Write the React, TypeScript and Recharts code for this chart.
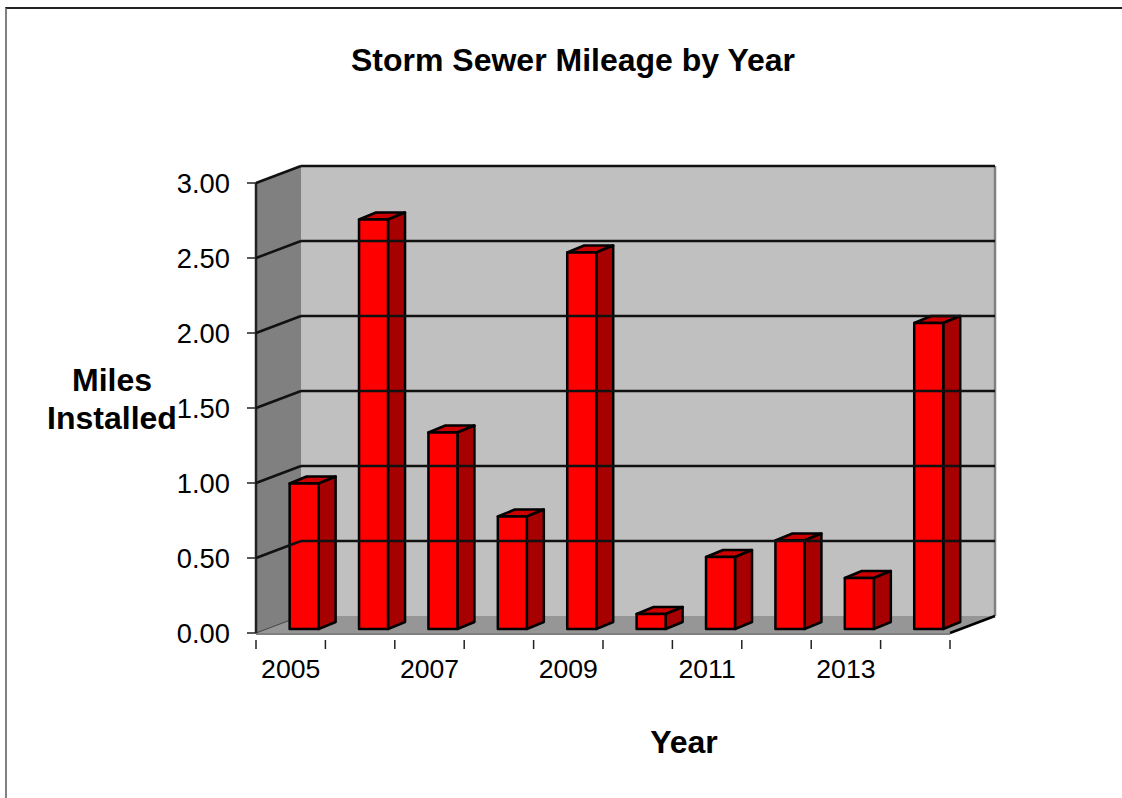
import { Bar, BarChart, ReferenceArea, ReferenceLine, XAxis, YAxis } from 'recharts';

const years = ['2005', '2006', '2007', '2008', '2009', '2010', '2011', '2012', '2013', '2014'];
const miles = [0.97, 2.73, 1.31, 0.75, 2.51, 0.1, 0.48, 0.59, 0.34, 2.04];
const yTicks = [0, 0.5, 1, 1.5, 2, 2.5, 3];
const gridTicks = [0.5, 1, 1.5, 2, 2.5, 3];
const chartTitle = 'Storm Sewer Mileage by Year';
const xTitle = 'Year';
const yTitleLines = ['Miles', 'Installed'];

const data = years.map((year, i) => ({ year, miles: miles[i] }));

// 3d look: how far the back wall sits from the front plane
const DEPTH_X = 45;
const DEPTH_Y = 17;
const PLOT_WIDTH = 694;
const FONT = '"Liberation Sans", Arial, sans-serif';

function Walls({ x, y, width, height }: any) {
  const bottom = y + height;
  const right = x + width;
  return (
    <g>
      <polygon
        points={`${x},${y} ${x + DEPTH_X},${y - DEPTH_Y} ${x + DEPTH_X},${bottom - DEPTH_Y} ${x},${bottom}`}
        fill="#808080"
      />
      <rect x={x + DEPTH_X} y={y - DEPTH_Y} width={width} height={height} fill="#c0c0c0" />
      <polygon
        points={`${x},${bottom} ${x + DEPTH_X},${bottom - DEPTH_Y} ${right + DEPTH_X},${bottom - DEPTH_Y} ${right},${bottom}`}
        fill="#969696"
      />
      <line x1={right + DEPTH_X} y1={y - DEPTH_Y} x2={right + DEPTH_X} y2={bottom - DEPTH_Y} stroke="#808080" strokeWidth={2.5} />
      <line x1={x} y1={bottom + 1} x2={right} y2={bottom + 1} stroke="#808080" strokeWidth={2} />
      <line x1={x} y1={bottom} x2={x + DEPTH_X} y2={bottom - DEPTH_Y} stroke="#404040" strokeWidth={1} />
      <line x1={right} y1={bottom} x2={right + DEPTH_X} y2={bottom - DEPTH_Y} stroke="#000" strokeWidth={2.5} />
      <line x1={x} y1={y} x2={x} y2={bottom} stroke="#222" strokeWidth={2.5} />
    </g>
  );
}

function GridLine(props: any) {
  const { x1, x2, y1 } = props;
  return (
    <g>
      <line x1={x1} y1={y1} x2={x1 + DEPTH_X} y2={y1 - DEPTH_Y} stroke="#111" strokeWidth={2.5} />
      <line x1={x1 + DEPTH_X} y1={y1 - DEPTH_Y} x2={x2 + DEPTH_X} y2={y1 - DEPTH_Y} stroke="#111" strokeWidth={2.5} />
    </g>
  );
}

function Bar3d({ x, y, width, height }: any) {
  const dx = 13.5;
  const lift = 4;
  const sideX = 17;
  const sideY = 7;
  const left = x + dx;
  const right = left + width;
  const top = y - lift;
  const bottom = y + height - lift;
  return (
    <g stroke="#000" strokeWidth={2.5} strokeLinejoin="round">
      <polygon points={`${left},${top} ${left + sideX},${top - sideY} ${right + sideX},${top - sideY} ${right},${top}`} fill="#cc0000" />
      <polygon points={`${right},${top} ${right + sideX},${top - sideY} ${right + sideX},${bottom - sideY} ${right},${bottom}`} fill="#a60000" />
      <rect x={left} y={top} width={width} height={height} fill="#ff0000" />
    </g>
  );
}

function YearTick({ x, y, payload, index }: any) {
  const half = PLOT_WIDTH / years.length / 2;
  return (
    <g>
      <line x1={x - half} y1={y - 1} x2={x - half} y2={y + 8} stroke="#222" strokeWidth={1.5} />
      {index === years.length - 1 && <line x1={x + half} y1={y - 1} x2={x + half} y2={y + 8} stroke="#222" strokeWidth={1.5} />}
      {index % 2 === 0 && (
        <text x={x} y={y + 30} textAnchor="middle" dominantBaseline="middle" fill="#000" fontSize={26.6} fontFamily={FONT}>
          {payload.value}
        </text>
      )}
    </g>
  );
}

export default function App() {
  return (
    <div style={{ position: 'absolute', left: 0, top: 0, width: 1122, height: 798, background: '#fff', fontFamily: FONT, overflow: 'hidden' }}>
      <div style={{ position: 'absolute', left: 5, top: 7, width: 1117, height: 791, borderTop: '2px solid #222', borderLeft: '2px solid #808080', boxSizing: 'border-box' }} />
      <div style={{ position: 'absolute', left: 0, top: 42, width: 1146, textAlign: 'center', fontWeight: 700, fontSize: 32 }}>{chartTitle}</div>
      <div style={{ position: 'absolute', left: 39, top: 361, width: 146, textAlign: 'center', fontWeight: 700, fontSize: 32, lineHeight: '38px' }}>
        {yTitleLines.map((t) => <div key={t}>{t}</div>)}
      </div>
      <div style={{ position: 'absolute', left: 584, top: 724, width: 200, textAlign: 'center', fontWeight: 700, fontSize: 32 }}>{xTitle}</div>
      <BarChart
        width={1122}
        height={798}
        data={data}
        margin={{ top: 183, right: 172, bottom: 105, left: 156 }}
        barCategoryGap="29%"
        style={{ position: 'absolute', left: 0, top: 0 }}
      >
        <ReferenceArea y1={0} y2={3} shape={<Walls />} ifOverflow="visible" stroke="none" />
        {gridTicks.map((t) => (
          <ReferenceLine key={t} y={t} shape={<GridLine />} ifOverflow="visible" />
        ))}
        <XAxis dataKey="year" interval={0} tickLine={false} axisLine={false} tick={<YearTick />} height={60} />
        <YAxis
          domain={[0, 3]}
          ticks={yTicks}
          tickFormatter={(v: number) => v.toFixed(2)}
          tick={{ fill: '#000', fontSize: 27.3, fontFamily: FONT }}
          tickSize={9}
          tickMargin={17}
          axisLine={false}
          tickLine={{ stroke: '#222', strokeWidth: 1.5 }}
          width={100}
        />
        <Bar dataKey="miles" shape={<Bar3d />} isAnimationActive={false} />
      </BarChart>
    </div>
  );
}
